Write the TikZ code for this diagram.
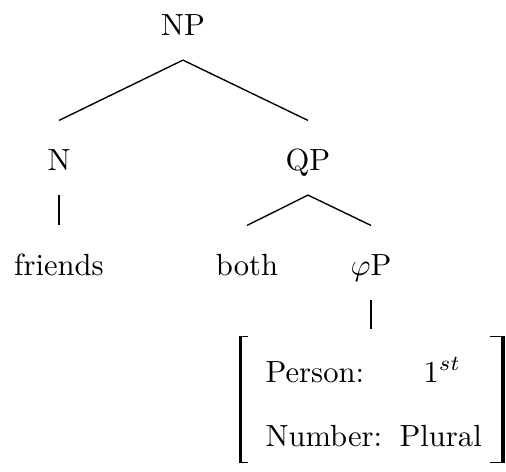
\documentclass[tikz,border=0pt]{standalone}
\begin{document}
\begin{tikzpicture}[x=0.3268pt, y=-0.3268pt,
  lab/.style={anchor=base, text height=12pt, text depth=4pt, inner sep=4pt},
  feat/.style={anchor=base west, inner sep=0pt},
  edge/.style={line width=0.45pt},
  brk/.style={line width=1.3pt},
  tick/.style={line width=0.45pt}]
\useasboundingbox (0,0) rectangle (506,471);
\node[lab] (NP) at (183,35) {NP};
\node[lab] (N) at (59,170) {N};
\node[lab] (QP) at (308,170) {QP};
\node[lab] (friends) at (59,275) {friends};
\node[lab] (both) at (247,275) {both};
\node[lab] (phiP) at (371,275) {$\varphi$P};
\coordinate (fstop) at (371,329);
\draw[edge] (NP.south) -- (N.north);
\draw[edge] (NP.south) -- (QP.north);
\draw[edge] (N.south) -- (friends.north);
\draw[edge] (QP.south) -- (both.north);
\draw[edge] (QP.south) -- (phiP.north);
\draw[edge] (phiP.south) -- (fstop);
% feature structure
\node[feat] (person) at (265,382) {Person:};
\node[feat] (first) at (423,382) {$1^{st}$};
\node[feat] (number) at (265,446) {Number:};
\node[feat] (plural) at (399,446) {Plural};
\draw[brk] (240.5,336) -- (240.5,462.5);
\draw[tick] (240.5,336.4) -- (248,336.4);
\draw[tick] (240.5,462.2) -- (248,462.2);
\draw[brk] (503,336) -- (503,462.5);
\draw[tick] (503,336.4) -- (490,336.4);
\draw[tick] (503,462.2) -- (490,462.2);
\end{tikzpicture}
\end{document}
